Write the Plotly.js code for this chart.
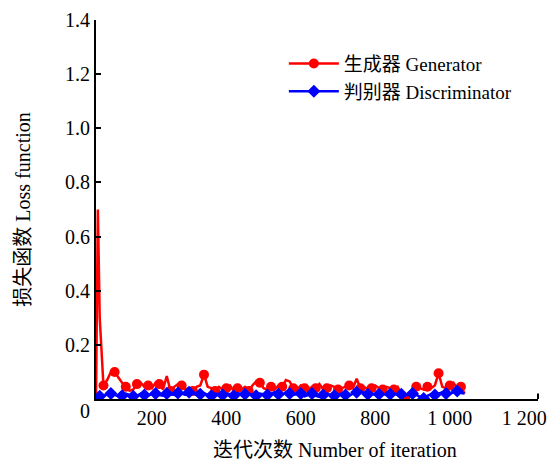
<!DOCTYPE html>
<html>
<head>
<meta charset="utf-8">
<script src="https://cdn.plot.ly/plotly-3.0.1.min.js"></script>
<style>html,body{margin:0;padding:0;background:#fff;}#chart{width:553px;height:463px;}</style>
</head>
<body>
<div id="chart"></div>
<script>
// Iteration numbers
const iterations = [50,55,60,70,80,90,100,110,120,130,140,150,160,170,180,190,200,210,220,230,240,250,260,270,280,290,300,310,320,330,340,350,360,370,380,390,400,410,420,430,440,450,460,470,480,490,500,510,520,530,540,550,560,570,580,590,600,610,620,630,640,650,660,670,680,690,700,710,720,730,740,750,760,770,780,790,800,810,820,830,840,850,860,870,880,890,900,910,920,930,940,950,960,970,980,990,1000,1010,1020,1030,1040];
// Generator loss
const generatorLoss = [0.0,0.70,0.30,0.05,0.07,0.10,0.10,0.08,0.06,0.045,0.03,0.035,0.055,0.06,0.045,0.05,0.04,0.06,0.055,0.035,0.085,0.03,0.045,0.055,0.05,0.035,0.04,0.03,0.045,0.05,0.09,0.045,0.04,0.03,0.045,0.035,0.04,0.05,0.03,0.04,0.035,0.045,0.03,0.05,0.065,0.06,0.04,0.035,0.045,0.035,0.05,0.045,0.07,0.065,0.04,0.035,0.05,0.04,0.035,0.045,0.04,0.055,0.035,0.04,0.05,0.045,0.035,0.04,0.045,0.05,0.04,0.075,0.04,0.045,0.035,0.04,0.05,0.04,0.035,0.045,0.04,0.035,0.045,0.02,0.005,0.01,0.035,0.045,0.04,0.035,0.045,0.04,0.05,0.095,0.045,0.04,0.05,0.06,0.04,0.045,0.02];
// Discriminator loss
const discriminatorLoss = [0.0,0.005,0.01,0.012,0.015,0.02,0.015,0.01,0.012,0.02,0.015,0.01,0.012,0.02,0.015,0.012,0.018,0.02,0.015,0.012,0.02,0.018,0.015,0.022,0.02,0.015,0.025,0.02,0.015,0.018,0.022,0.015,0.012,0.02,0.018,0.015,0.02,0.018,0.012,0.022,0.015,0.018,0.02,0.015,0.012,0.02,0.018,0.015,0.02,0.025,0.018,0.015,0.025,0.02,0.015,0.018,0.02,0.01,0.015,0.02,0.012,0.008,0.015,0.02,0.015,0.012,0.018,0.02,0.015,0.012,0.02,0.025,0.03,0.022,0.018,0.02,0.015,0.018,0.02,0.015,0.018,0.02,0.015,0.018,0.012,0.015,0.02,0.015,0.008,0.002,0.012,0.018,0.015,0.02,0.025,0.02,0.018,0.025,0.03,0.022,0.02];

const seriesNames = ['生成器 Generator', '判别器 Discriminator'];
const xTickVals = [200,400,600,800,1000,1200];
const xTickText = ['200','400','600','800','1 000','1 200'];
const yTickVals = [0.2,0.4,0.6,0.8,1.0,1.2,1.4];
const yTickText = ['0.2','0.4','0.6','0.8','1.0','1.2','1.4'];

const FONT = '"Liberation Serif", "Times New Roman", "Noto Sans CJK SC", serif';

const traces = [
  {
    x: iterations, y: generatorLoss, name: seriesNames[0], type: 'scatter', mode: 'lines+markers',
    line: {color: 'rgb(255,0,0)', width: 2.5},
    marker: {symbol: 'circle', size: 10, color: 'rgb(255,0,0)', maxdisplayed: 40}
  },
  {
    x: iterations, y: discriminatorLoss, name: seriesNames[1], type: 'scatter', mode: 'lines+markers',
    line: {color: 'rgb(0,0,255)', width: 2.5},
    marker: {symbol: 'diamond', size: 10, color: 'rgb(0,0,255)', maxdisplayed: 34}
  }
];

const layout = {
  width: 553, height: 463,
  margin: {l: 96, r: 15, t: 20, b: 64},
  paper_bgcolor: '#fff', plot_bgcolor: '#fff',
  font: {family: FONT, size: 20, color: '#000'},
  showlegend: true,
  legend: {x: 0.425, y: 0.935, xanchor: 'left', yanchor: 'top', bgcolor: 'rgba(0,0,0,0)',
           font: {family: FONT, size: 19, color: '#000'}, itemwidth: 50, tracegroupgap: 0},
  xaxis: {range: [50, 1237], showgrid: false, zeroline: false, showline: true, linecolor: '#000', linewidth: 2,
          ticks: '', tickvals: xTickVals, ticktext: xTickText, tickfont: {family: FONT, size: 20}},
  yaxis: {range: [0, 1.4], showgrid: false, zeroline: false, showline: true, linecolor: '#000', linewidth: 2,
          ticks: 'inside', ticklen: 5, tickwidth: 2, tickcolor: '#000',
          tickvals: yTickVals, ticktext: yTickText, tickfont: {family: FONT, size: 20}},
  shapes: [
    {type: 'line', xref: 'paper', yref: 'y', x0: 1, x1: 1, y0: 0, y1: 0.02, line: {color: '#000', width: 2}}
  ],
  annotations: [
    {text: '0', xref: 'paper', yref: 'y', x: 0, y: 0, xanchor: 'center', yanchor: 'middle', xshift: -11, yshift: -12,
     showarrow: false, font: {family: FONT, size: 20}},
    {text: '损失函数 Loss function', xref: 'paper', yref: 'paper', x: -0.167, y: 0.5, textangle: -90,
     xanchor: 'center', yanchor: 'middle', showarrow: false, font: {family: FONT, size: 20}},
    {text: '迭代次数 Number of iteration', xref: 'paper', yref: 'paper', x: 0.541, y: -0.135,
     xanchor: 'center', yanchor: 'middle', showarrow: false, font: {family: FONT, size: 20}}
  ]
};

Plotly.newPlot('chart', traces, layout, {displayModeBar: false, staticPlot: true});
</script>
</body>
</html>
